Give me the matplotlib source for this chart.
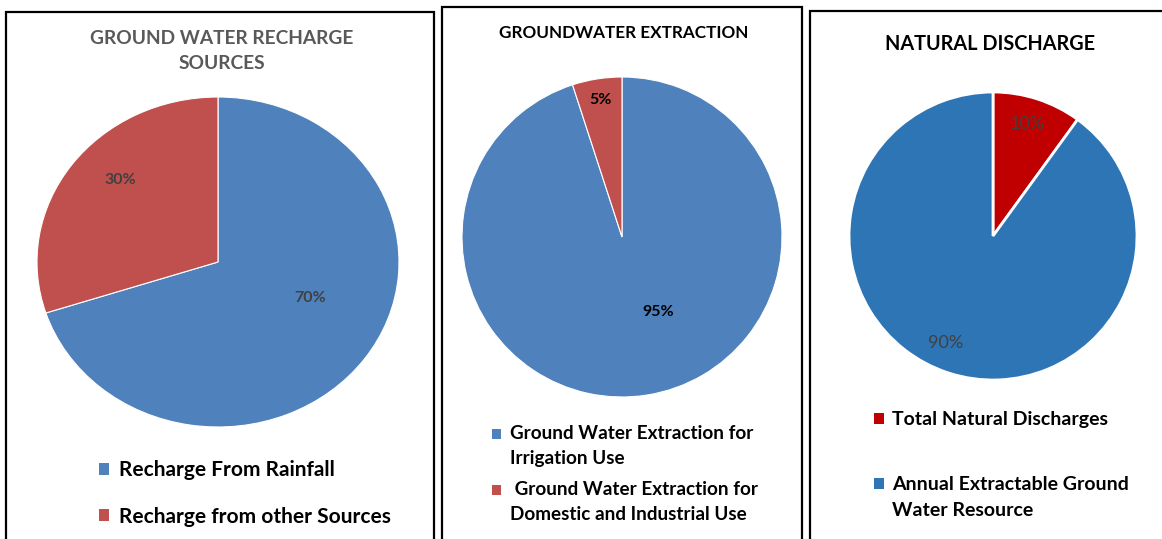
import matplotlib
matplotlib.use('Agg')
import matplotlib.pyplot as plt
from matplotlib.patches import Rectangle

plt.rcParams['font.family'] = ['Lato', 'DejaVu Sans']

W, H = 1162, 539

# recharge sources
recharge_labels = ['Recharge From Rainfall', 'Recharge from other Sources']
recharge_values = [70, 30]

# extraction
extraction_labels = ['Ground Water Extraction for\nIrrigation Use',
                     ' Ground Water Extraction for\nDomestic and Industrial Use']
extraction_values = [95, 5]

# natural discharge
discharge_labels = ['Total Natural Discharges', 'Annual Extractable Ground\nWater Resource']
discharge_values = [10, 90]

fig = plt.figure(figsize=(W / 100, H / 100), dpi=100)
fig.patch.set_facecolor('white')


def px_axes(cx, cy, rx, ry):
    # axes box around a pie, given centre and radii in pixels (y from top)
    ax = fig.add_axes([(cx - rx) / W, 1 - (cy + ry) / H, 2 * rx / W, 2 * ry / H])
    return ax


def frame(x0, y0, x1, y1):
    fig.patches.append(Rectangle((x0 / W, 1 - y1 / H), (x1 - x0) / W, (y1 - y0) / H,
                                 transform=fig.transFigure, fill=False,
                                 edgecolor='black', linewidth=1.6, zorder=5))


def draw_pie(ax, values, colors, edge_lw, pct_dist, pct_pos, pct_style):
    wedges, _, autotexts = ax.pie(values, colors=colors, startangle=90, counterclock=False,
                                  autopct='%d%%', pctdistance=pct_dist,
                                  wedgeprops=dict(edgecolor='white', linewidth=edge_lw))
    ax.set_aspect('auto')
    ax.set_xlim(-1, 1)
    ax.set_ylim(-1, 1)
    for t, pos in zip(autotexts, pct_pos):
        if pos is not None:
            t.set_position(pos)
        t.set(**pct_style)
    return wedges


def legend(wedges, labels, x, y, spacing, size, linesp=1.2):
    leg = fig.legend(wedges, labels, loc='upper left', bbox_to_anchor=(x / W, 1 - y / H),
                     frameon=False, handlelength=0.5, handleheight=0.5, handletextpad=0.45,
                     borderpad=0, borderaxespad=0, labelspacing=spacing,
                     prop=dict(family=['Lato', 'DejaVu Sans'], weight='bold', size=size))
    for h, lab in zip(leg.legend_handles, labels):
        h.set_edgecolor('none')
        # keep the square level with the first line of a wrapped label
        if '\n' in lab:
            h.set_y(h.get_y() + 0.5 * linesp * size * 0.83)
    for t in leg.get_texts():
        t.set_linespacing(linesp)
    return leg


# panel frames
frame(6, 12, 434, 560)
frame(442, 7, 802, 560)
frame(810, 11, 1180, 560)

# --- ground water recharge sources
ax1 = px_axes(218, 262, 181, 165)
w1 = draw_pie(ax1, recharge_values, ['#4F81BD', '#C0504D'], 0.8, 0.73,
              [(0.51, -0.22), (-0.54, 0.50)],
              dict(fontsize=11.5, fontweight='bold', color='#404040'))
fig.text(222 / W, 1 - 30 / H, 'GROUND WATER RECHARGE\nSOURCES', ha='center', va='top',
         fontsize=13.8, fontweight='bold', color='#595959', linespacing=1.55)
legend(w1, recharge_labels, 99, 460, 1.28, 15)

# --- groundwater extraction
ax2 = px_axes(622, 237, 160, 160)
w2 = draw_pie(ax2, extraction_values, ['#4F81BD', '#C0504D'], 0.8, 0.87,
              [(0.225, -0.47), None],
              dict(fontsize=11.5, fontweight='bold', color='black'))
fig.text(624 / W, 1 - 33 / H, 'GROUNDWATER EXTRACTION', ha='center', va='center',
         fontsize=12.3, fontweight='bold', color='black')
legend(w2, extraction_labels, 492, 425, 0.72, 13.6, 1.6)

# --- natural discharge
ax3 = px_axes(993, 236, 144, 144)
w3 = draw_pie(ax3, discharge_values, ['#C00000', '#2E75B6'], 2, 0.81,
              [(0.24, 0.78), (-0.33, -0.74)],
              dict(fontsize=13, color='#404040'))
fig.text(990 / W, 1 - 44 / H, 'NATURAL DISCHARGE', ha='center', va='center',
         fontsize=14.3, fontweight='bold', color='black')
legend(w3, discharge_labels, 874, 411, 2.45, 14, 1.7)

fig.savefig('out.png', dpi=100, facecolor='white')
